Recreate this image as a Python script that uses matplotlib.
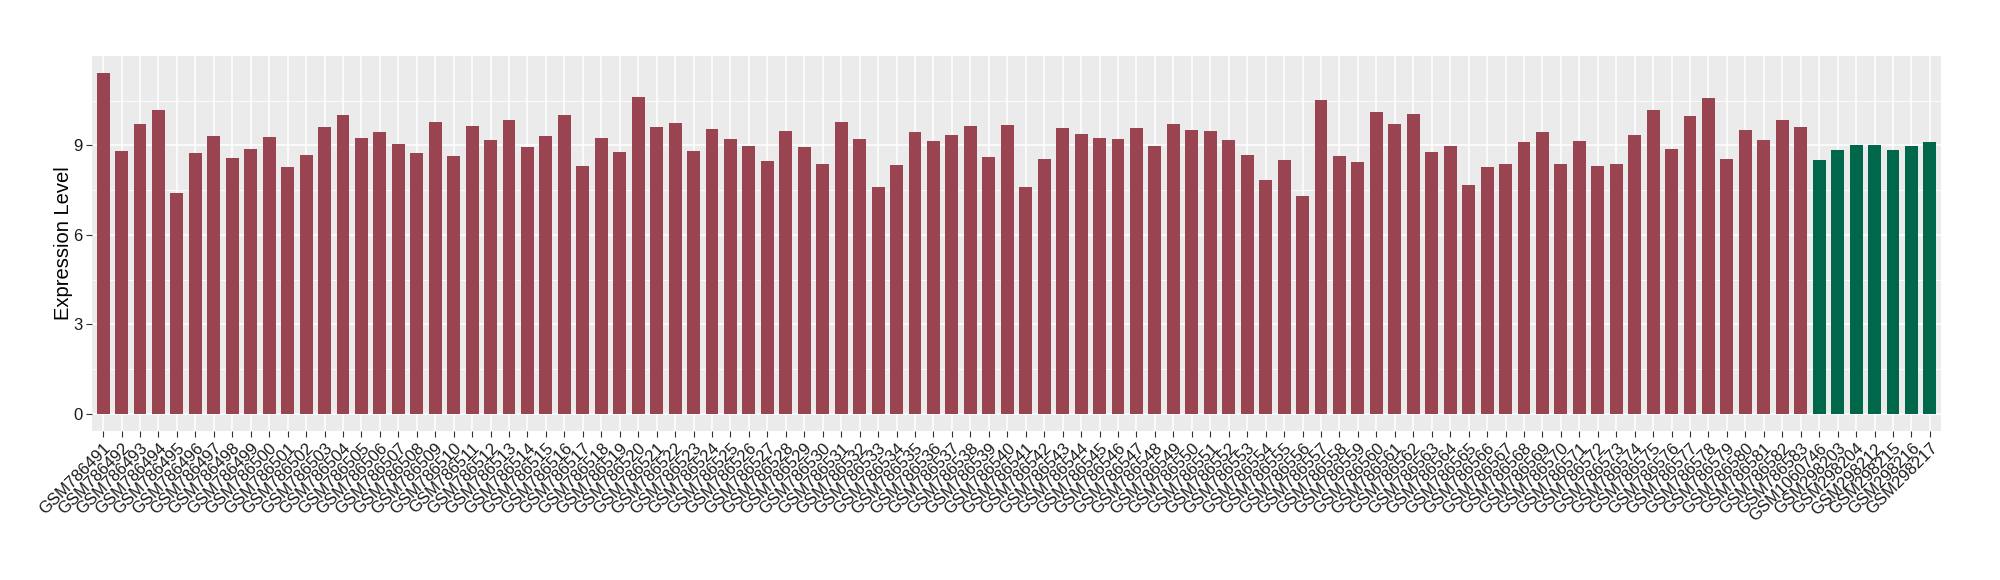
import matplotlib
matplotlib.use("Agg")
import matplotlib.pyplot as plt
import numpy as np

samples_a = [f"GSM786{n}" for n in range(491, 584)]
samples_b = ["GSM1060746", "GSM298203", "GSM298204", "GSM298212",
             "GSM298215", "GSM298216", "GSM298217"]

values_a = [11.43, 8.82, 9.72, 10.19, 7.42, 8.75, 9.32, 8.59, 8.89, 9.29,
            8.29, 8.69, 9.62, 10.02, 9.26, 9.46, 9.06, 8.75, 9.79, 8.65,
            9.66, 9.19, 9.86, 8.96, 9.32, 10.02, 8.32, 9.26, 8.79, 10.63,
            9.62, 9.76, 8.82, 9.56, 9.22, 8.99, 8.49, 9.49, 8.96, 8.39,
            9.79, 9.22, 7.62, 8.35, 9.46, 9.16, 9.36, 9.66, 8.62, 9.69,
            7.62, 8.55, 9.59, 9.39, 9.26, 9.22, 9.59, 8.99, 9.72, 9.52,
            9.49, 9.19, 8.69, 7.85, 8.52, 7.32, 10.53, 8.65, 8.45, 10.12,
            9.72, 10.06, 8.79, 8.99, 7.69, 8.29, 8.39, 9.12, 9.46, 8.39,
            9.16, 8.32, 8.39, 9.36, 10.19, 8.89, 9.99, 10.59, 8.55, 9.52,
            9.19, 9.86, 9.62]
values_b = [8.52, 8.85, 9.02, 9.02, 8.85, 8.99, 9.12]

color_a = "#9A4452"
color_b = "#00674A"

labels = samples_a + samples_b
values = values_a + values_b
colors = [color_a] * len(samples_a) + [color_b] * len(samples_b)
x = np.arange(1, len(labels) + 1)

fig = plt.figure(figsize=(20, 5.8), dpi=100)
ax = fig.add_axes([0.046, 0.257, 0.9245, 0.6465])
ax.set_facecolor("#EBEBEB")

ax.bar(x, values, width=0.7, color=colors, zorder=3)

vmax = max(values)
ax.set_ylim(-0.05 * vmax, vmax * 1.05)
ax.set_xlim(0.4, len(labels) + 0.6)

ax.set_yticks([0, 3, 6, 9])
ax.set_yticks([1.5, 4.5, 7.5, 10.5], minor=True)
ax.set_xticks(x)
ax.set_xticklabels(labels, rotation=45, ha="right", va="top",
                   rotation_mode="anchor", fontsize=12,
                   family="Liberation Sans", color="#1a1a1a")
for lab in ax.get_yticklabels():
    lab.set_fontsize(12)
    lab.set_family("Liberation Sans")
    lab.set_color("#1a1a1a")

ax.grid(which="major", axis="both", color="white", linewidth=1.1, zorder=0)
ax.grid(which="minor", axis="y", color="white", linewidth=0.55, zorder=0)
ax.set_axisbelow(True)
ax.tick_params(axis="both", which="major", length=4, color="#333333",
               width=0.8, pad=3)
ax.tick_params(axis="y", which="minor", length=0)
for s in ax.spines.values():
    s.set_visible(False)

ax.set_ylabel("Expression Level", fontsize=14.5, family="Liberation Sans")
ax.yaxis.set_label_coords(-0.0105, 0.5)

fig.savefig("out.png", dpi=100)
